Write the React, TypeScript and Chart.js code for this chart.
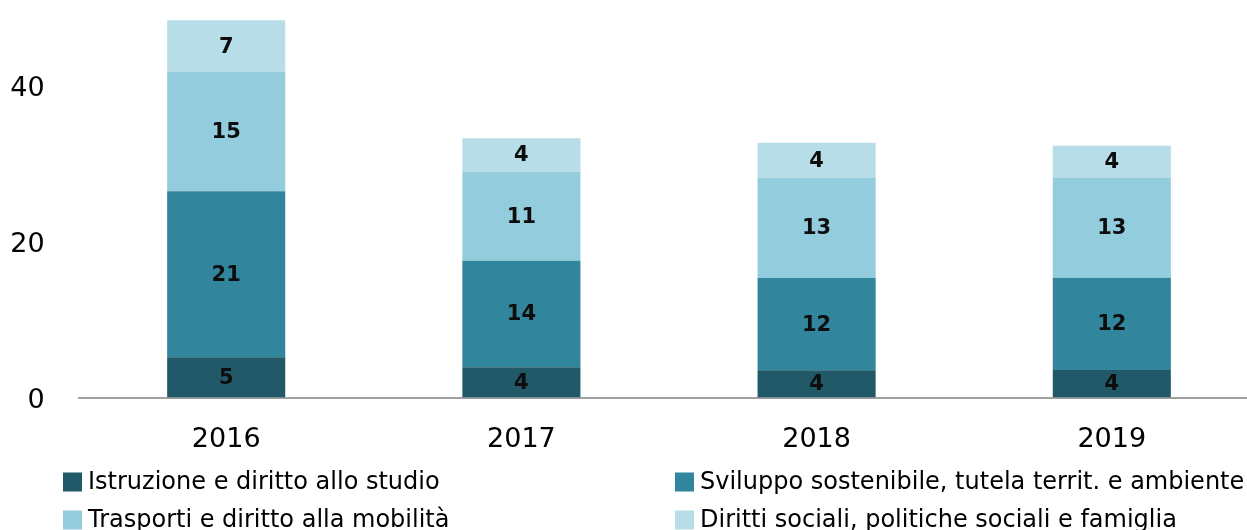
import React, { useEffect, useRef } from "react";
import { Chart, registerables } from "chart.js";

Chart.register(...registerables);

const categories = ["2016", "2017", "2018", "2019"];
const seriesNames = [
  "Istruzione e diritto allo studio",
  "Sviluppo sostenibile, tutela territ. e ambiente",
  "Trasporti e diritto alla mobilità",
  "Diritti sociali, politiche sociali e famiglia",
];
const istruzione = [5.15, 3.87, 3.49, 3.53];
const sviluppo = [21.3, 13.67, 11.83, 11.82];
const trasporti = [15.3, 11.41, 12.86, 12.86];
const diritti = [6.6, 4.28, 4.49, 4.06];
const istruzioneLabels = ["5", "4", "4", "4"];
const sviluppoLabels = ["21", "14", "12", "12"];
const trasportiLabels = ["15", "11", "13", "13"];
const dirittiLabels = ["7", "4", "4", "4"];
const yTickValues = [0, 20, 40];

const colors = ["#215968", "#31859C", "#93CDDD", "#B7DEE8"];

const W = 1262;
const H = 530;

export default function App() {
  const ref = useRef<HTMLCanvasElement | null>(null);
  useEffect(() => {
    if (!ref.current) return;
    const allLabels = [istruzioneLabels, sviluppoLabels, trasportiLabels, dirittiLabels];

    const dataLabelPlugin = {
      id: "segLabels",
      afterDatasetsDraw(chart: any) {
        const ctx = chart.ctx;
        ctx.save();
        ctx.font = "bold 21px 'DejaVu Sans'";
        ctx.fillStyle = "#0d0d0d";
        ctx.textAlign = "center";
        ctx.textBaseline = "middle";
        chart.data.datasets.forEach((ds: any, di: number) => {
          const meta = chart.getDatasetMeta(di);
          meta.data.forEach((el: any, i: number) => {
            const p = el.getProps(["x", "y", "base"], true);
            ctx.fillText(allLabels[di][i], p.x, (p.y + p.base) / 2 + 1);
          });
        });
        ctx.restore();
      },
    };

    const legendPlugin = {
      id: "gridLegend",
      afterDraw(chart: any) {
        const ctx = chart.ctx;
        ctx.save();
        ctx.font = "24px 'DejaVu Sans'";
        ctx.textBaseline = "middle";
        ctx.textAlign = "left";
        const colX = [63, 675];
        const rowY = [482, 520];
        chart.data.datasets.forEach((ds: any, i: number) => {
          const x = colX[i % 2];
          const y = rowY[Math.floor(i / 2)];
          ctx.fillStyle = ds.backgroundColor;
          ctx.fillRect(x, y - 9.5, 19, 19);
          ctx.fillStyle = "#000";
          ctx.fillText(ds.label, x + 25, y + 1);
        });
        ctx.restore();
      },
    };

    const chart = new Chart(ref.current, {
      type: "bar",
      data: {
        labels: categories,
        datasets: [istruzione, sviluppo, trasporti, diritti].map((d, i) => ({
          label: seriesNames[i],
          data: d,
          backgroundColor: colors[i],
          borderWidth: 0,
          barPercentage: 0.4,
          categoryPercentage: 1,
        })),
      },
      options: {
        responsive: false,
        animation: false,
        devicePixelRatio: 1,
        layout: { padding: { top: 7.5, right: 2.6, left: 0, bottom: 0 } },
        plugins: {
          legend: { display: false },
          tooltip: { enabled: false },
        },
        scales: {
          x: {
            stacked: true,
            grid: { display: false, drawTicks: false },
            border: { display: true, color: "#a0a0a0", width: 2 },
            ticks: {
              color: "#000",
              font: { family: "'DejaVu Sans'", size: 27 },
              padding: 26,
            },
            afterFit(scale: any) {
              scale.height = 132.5;
              scale.paddingLeft = 0;
              scale.paddingRight = 0;
            },
          },
          y: {
            stacked: true,
            min: 0,
            max: 50,
            grid: { display: false, drawTicks: false },
            border: { display: false },
            ticks: {
              color: "#000",
              font: { family: "'DejaVu Sans'", size: 27 },
              padding: 34,
              labelOffset: 3,
            },
            afterBuildTicks(scale: any) {
              scale.ticks = yTickValues.map((v) => ({ value: v }));
            },
            afterFit(scale: any) {
              scale.width = 78.6;
              scale.paddingTop = 0;
              scale.paddingBottom = 0;
            },
          },
        },
      },
      plugins: [dataLabelPlugin, legendPlugin],
    });
    return () => chart.destroy();
  }, []);

  return (
    <div style={{ position: "fixed", left: 0, top: 0, right: 0, bottom: 0, overflow: "hidden", background: "#fff" }}>
      <canvas ref={ref} width={W} height={H} style={{ width: W, height: H, display: "block" }} />
    </div>
  );
}
